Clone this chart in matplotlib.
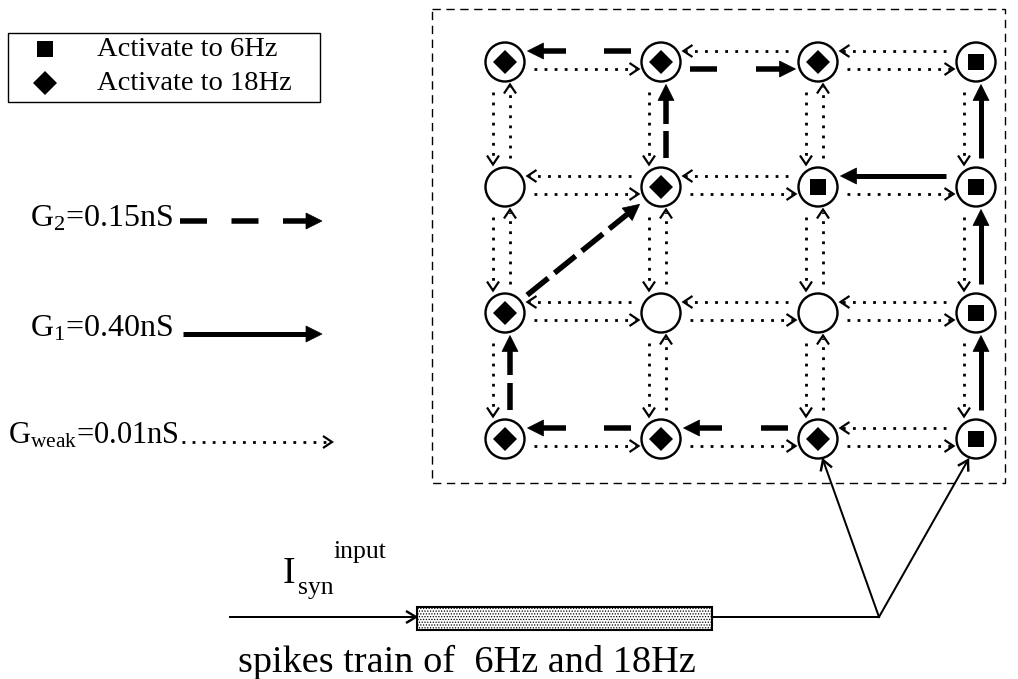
import numpy as np
import matplotlib
matplotlib.use("Agg")
import matplotlib.pyplot as plt
from matplotlib.patches import Circle, Rectangle, Polygon

plt.rcParams['font.family'] = ['Liberation Serif', 'DejaVu Serif']
plt.rcParams['mathtext.fontset'] = 'custom'
plt.rcParams['mathtext.rm'] = 'Liberation Serif'
plt.rcParams['mathtext.it'] = 'Liberation Serif'
plt.rcParams['hatch.linewidth'] = 0.6

# grid of neurons (pixel layout of the original figure)
col_x = [505, 661, 818, 976]
row_y = [62, 187, 313, 439]
# S = activates to 6Hz, D = activates to 18Hz, '' = silent
node_kind = [["D", "D", "D", "S"],
             ["", "D", "S", "S"],
             ["D", "", "", "S"],
             ["D", "D", "D", "S"]]

# strong connections (row, col) -> (row, col)
g2_links = [((0, 1), (0, 0)), ((0, 1), (0, 2)), ((1, 1), (0, 1)), ((2, 0), (1, 1)),
            ((3, 0), (2, 0)), ((3, 2), (3, 1)), ((3, 1), (3, 0))]
g1_links = [((1, 3), (0, 3)), ((1, 3), (1, 2)), ((2, 3), (1, 3)), ((3, 3), (2, 3))]

legend_labels = ["Activate to 6Hz", "Activate to 18Hz"]
g_labels = [r"G$_2$=0.15nS", r"G$_1$=0.40nS", r"G$_{\rm weak}$=0.01nS"]

R = 19.5
PX = 0.72  # points per pixel

fig = plt.figure(figsize=(10.18, 6.79), dpi=100)
ax = fig.add_axes([0, 0, 1, 1])
ax.set_xlim(0, 1018)
ax.set_ylim(679, 0)
ax.axis('off')


def chevron(tip, u, size=9, half=6, lw=2.2):
    tip = np.array(tip, float)
    n = np.array([-u[1], u[0]])
    base = tip - u * size
    ax.plot([base[0] + n[0] * half, tip[0], base[0] - n[0] * half],
            [base[1] + n[1] * half, tip[1], base[1] - n[1] * half],
            color='k', lw=lw * PX, solid_joinstyle='miter', solid_capstyle='butt')


def filled_head(tip, u, size=16, half=8):
    tip = np.array(tip, float)
    n = np.array([-u[1], u[0]])
    base = tip - u * size
    ax.add_patch(Polygon([tip, base + n * half, base - n * half], closed=True,
                         facecolor='k', edgecolor='k', lw=0.5))


def arrow(p0, p1, kind):
    p0 = np.array(p0, float)
    p1 = np.array(p1, float)
    u = (p1 - p0) / np.linalg.norm(p1 - p0)
    if kind == 'weak':
        end = p1 - u * 2
        ax.plot([p0[0], end[0]], [p0[1], end[1]], color='k', lw=2.8 * PX,
                linestyle=(0, (1.0, 2.6)), dash_capstyle='butt')
        chevron(p1, u)
    elif kind == 'g1':
        end = p1 - u * 12
        ax.plot([p0[0], end[0]], [p0[1], end[1]], color='k', lw=5 * PX,
                solid_capstyle='butt')
        filled_head(p1, u)
    elif kind == 'g2':
        end = p1 - u * 12
        lw = 5.5
        L = np.linalg.norm(end - p0)
        dash, gap = 27.0, 15.0
        n = max(1, int(round((L - dash) / (dash + gap))))
        gap = (L - (n + 1) * dash) / n
        if gap < 8:
            n = max(1, n - 1)
            gap = (L - (n + 1) * dash) / n
        ax.plot([end[0], p0[0]], [end[1], p0[1]], color='k', lw=lw * PX,
                linestyle=(0, (dash / lw, gap / lw)), dash_capstyle='butt')
        filled_head(p1, u)
    elif kind == 'thin':
        ax.plot([p0[0], p1[0]], [p0[1], p1[1]], color='k', lw=2 * PX)
        chevron(p1, u, size=10, half=6, lw=2.4)


def link_points(a, b, start_gap=10, end_gap=3):
    (r0, c0), (r1, c1) = a, b
    x0, y0, x1, y1 = col_x[c0], row_y[r0], col_x[c1], row_y[r1]
    if r0 == r1:
        off = -11 if c1 < c0 else 7
        d = np.sign(x1 - x0)
        return (x0 + d * (R + start_gap), y0 + off), (x1 - d * (R + end_gap), y1 + off)
    if c0 == c1:
        off = -12 if r1 > r0 else 5
        d = np.sign(y1 - y0)
        return (x0 + off, y0 + d * (R + start_gap)), (x1 + off, y1 - d * (R + end_gap))
    v = np.array([x1 - x0, y1 - y0], float)
    v /= np.linalg.norm(v)
    return (x0 + v[0] * (R + 9), y0 + v[1] * (R + 9)), (x1 - v[0] * (R + 8), y1 - v[1] * (R + 8))


strong = {}
for a, b in g2_links:
    strong[(a, b)] = 'g2'
for a, b in g1_links:
    strong[(a, b)] = 'g1'

# weak links between all neighbours, both directions
for r in range(4):
    for c in range(4):
        for dr, dc in [(0, 1), (0, -1), (1, 0), (-1, 0)]:
            rr, cc = r + dr, c + dc
            if 0 <= rr < 4 and 0 <= cc < 4:
                key = ((r, c), (rr, cc))
                kind = strong.get(key, 'weak')
                p0, p1 = link_points(*key)
                arrow(p0, p1, kind)

# diagonal strong link(s)
for key, kind in strong.items():
    (r0, c0), (r1, c1) = key
    if r0 != r1 and c0 != c1:
        p0, p1 = link_points(*key)
        arrow(p0, p1, kind)

# neurons
for r in range(4):
    for c in range(4):
        ax.add_patch(Circle((col_x[c], row_y[r]), R, facecolor='white',
                            edgecolor='k', lw=2.4 * PX, zorder=5))
        if node_kind[r][c] == "S":
            ax.plot(col_x[c], row_y[r], marker='s', ms=16 * PX, color='k', mew=0, zorder=6)
        elif node_kind[r][c] == "D":
            ax.plot(col_x[c], row_y[r], marker='D', ms=17 * PX, color='k', mew=0, zorder=6)

# dashed frame around the network
ax.add_patch(Rectangle((432, 9), 573, 474, fill=False, edgecolor='k', lw=1.0,
                       linestyle=(0, (6, 4))))

# legend box
ax.add_patch(Rectangle((8, 33), 312, 69, fill=False, edgecolor='k', lw=1.0))
ax.plot(45, 49, marker='s', ms=16 * PX, color='k', mew=0)
ax.plot(45, 83, marker='D', ms=17 * PX, color='k', mew=0)
ax.text(97, 49, legend_labels[0], fontsize=20.5, va='center', ha='left')
ax.text(97, 83, legend_labels[1], fontsize=20.5, va='center', ha='left')

# connection strength legend
ax.text(30, 219, g_labels[0], fontsize=23, va='center', ha='left')
arrow((180, 221), (322, 221), 'g2')
ax.text(30, 329, g_labels[1], fontsize=23, va='center', ha='left')
arrow((183, 334), (322, 334), 'g1')
ax.text(8, 436, g_labels[2], fontsize=22, va='center', ha='left')
arrow((182, 442), (332, 442), 'weak')

# input stimulus
ax.text(283, 583, "I", fontsize=27, va='baseline', ha='left')
ax.text(298, 594, "syn", fontsize=18.5, va='baseline', ha='left')
ax.text(334, 558, "input", fontsize=18.5, va='baseline', ha='left')
arrow((230, 617), (416, 617), 'thin')
ax.add_patch(Rectangle((417, 607), 295, 23, facecolor='white', edgecolor='k',
                       lw=1.5, hatch='......'))
ax.plot([712, 879], [617, 617], color='k', lw=2 * PX)
arrow((879, 617), (823, 460), 'thin')
arrow((879, 617), (968, 460), 'thin')
ax.text(238, 672, "spikes train of  6Hz and 18Hz", fontsize=27.5, va='baseline', ha='left')

fig.savefig("out.png", dpi=100)
